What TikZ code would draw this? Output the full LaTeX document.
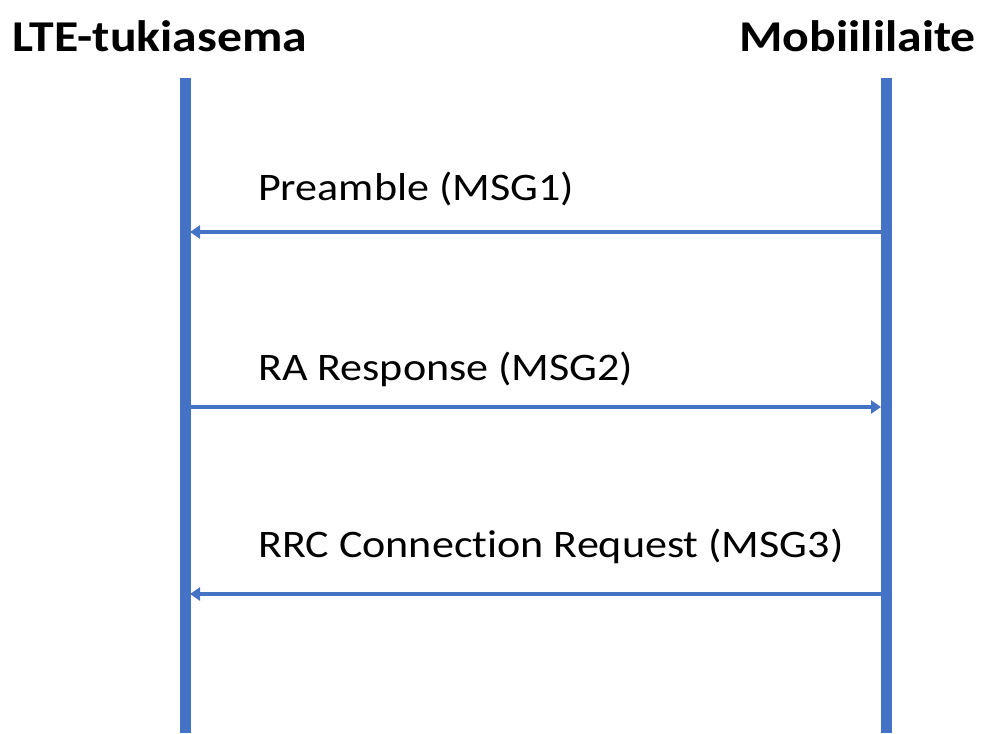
\documentclass[tikz,border=0pt]{standalone}
\usepackage{fontspec}
\setmainfont{Carlito}[FakeStretch=1.13, Ligatures=NoCommon]
\usetikzlibrary{arrows.meta}
\definecolor{viiva}{HTML}{4472C4}
\tikzset{
  otsikko/.style={font=\bfseries\fontsize{44}{48}\selectfont, inner sep=0pt},
  viesti/.style={font=\fontsize{39}{44}\selectfont, inner sep=0pt, anchor=base west},
  elinkaari/.style={viiva, line width=11pt},
  nuoli/.style={viiva, line width=4pt, -{Triangle[length=10pt,width=13pt]}}
}
\begin{document}
\begin{tikzpicture}[x=1pt, y=-1pt]
    \useasboundingbox (0,0) rectangle (984,733);

    % Otsikot
    \node[otsikko, anchor=base west] (asema) at (12,52) {LTE-tukiasema};
    \node[otsikko, anchor=base east] (mobiili) at (976,52) {Mobiililaite};

    % Elinkaaret
    \coordinate (a1) at (185,78);
    \coordinate (a2) at (185,733);
    \coordinate (m1) at (886,78);
    \coordinate (m2) at (886,733);
    \draw[elinkaari] (a1) -- (a2);
    \draw[elinkaari] (m1) -- (m2);

    % Viestit
    \coordinate (v1a) at (190,232);  \coordinate (v1m) at (886,232);
    \coordinate (v2a) at (185,407);  \coordinate (v2m) at (881,407);
    \coordinate (v3a) at (190,594);  \coordinate (v3m) at (886,594);
    \draw[nuoli] (v1m) -- (v1a);
    \draw[nuoli] (v2a) -- (v2m);
    \draw[nuoli] (v3m) -- (v3a);

    \node[viesti] (msg1) at (258,200) {Preamble (MSG1)};
    \node[viesti] (msg2) at (258,380) {RA Response (MSG2)};
    \node[viesti] (msg3) at (258,557) {RRC Connection Request (MSG3)};
  \end{tikzpicture}
\end{document}
